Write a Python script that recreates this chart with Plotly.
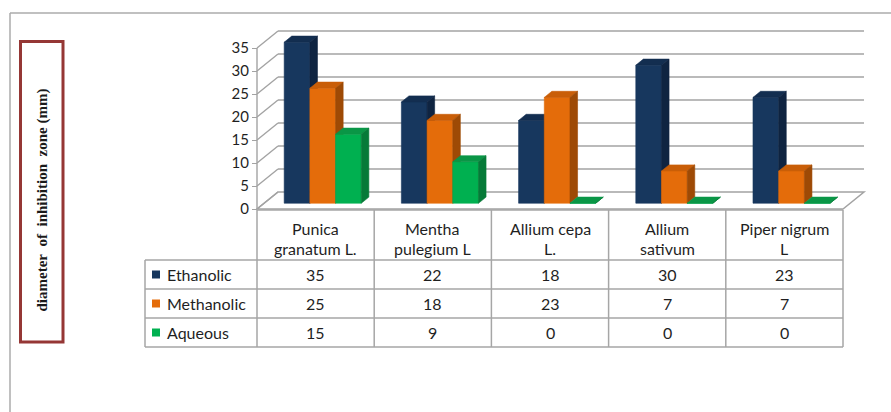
import plotly.graph_objects as go

# ---- data -------------------------------------------------------------
categories = ["Punica<br>granatum L.", "Mentha<br>pulegium L", "Allium cepa<br>L.",
              "Allium<br>sativum", "Piper nigrum<br>L"]
series_names = ["Ethanolic", "Methanolic", "Aqueous"]
ethanolic = [35, 22, 18, 30, 23]
methanolic = [25, 18, 23, 7, 7]
aqueous = [15, 9, 0, 0, 0]
y_ticks = [0, 5, 10, 15, 20, 25, 30, 35]
y_title = "diameter\u00a0\u00a0of\u00a0\u00a0inhibition\u00a0\u00a0zone (mm)"

series_values = [ethanolic, methanolic, aqueous]
# face colours: front, top, side
palette = [
    ("#17375E", "#132E50", "#0F2441"),
    ("#E46C0A", "#C95E08", "#9E4A05"),
    ("#00B050", "#0A9646", "#067A38"),
]

# ---- geometry ---------------------------------------------------------
W, H = 891, 412
PX_PER_CAT = 117.2          # horizontal pixels per category column
PX_PER_VAL = 4.6            # vertical pixels per mm
X_LEFT_PX = 257             # left edge of the category area
Y_ZERO_PX = 209             # value 0 on the front plane
DEPTH_DX_PX, DEPTH_DY_PX = 21, 17

DX = DEPTH_DX_PX / PX_PER_CAT
DY = DEPTH_DY_PX / PX_PER_VAL
D0, D1 = 0.34, 0.70          # depth span of the bars
BAR_W = 25.7 / PX_PER_CAT
YMAX = y_ticks[-1]
n = len(categories)

x_range = [-0.5 - X_LEFT_PX / PX_PER_CAT, -0.5 + (W - X_LEFT_PX) / PX_PER_CAT]
y_range = [(Y_ZERO_PX - H) / PX_PER_VAL, Y_ZERO_PX / PX_PER_VAL]


def px(p):
    return p / W


def py(p):
    return 1 - p / H


def proj(x, v, d):
    return x + DX * d, v + DY * d


fig = go.Figure()

# ---- 3D bars: front, top and side faces --------------------------------
for s, (vals, cols) in enumerate(zip(series_values, palette)):
    faces = {"front": ([], []), "top": ([], []), "side": ([], [])}
    for i, v in enumerate(vals):
        xl = i - 1.5 * BAR_W + s * BAR_W
        xr = xl + BAR_W
        polys = {
            "front": [proj(xl, 0, D0), proj(xr, 0, D0), proj(xr, v, D0), proj(xl, v, D0)],
            "top": [proj(xl, v, D0), proj(xr, v, D0), proj(xr, v, D1), proj(xl, v, D1)],
            "side": [proj(xr, 0, D0), proj(xr, 0, D1), proj(xr, v, D1), proj(xr, v, D0)],
        }
        for k, pts in polys.items():
            xs, ys = faces[k]
            xs.extend([p[0] for p in pts] + [pts[0][0], None])
            ys.extend([p[1] for p in pts] + [pts[0][1], None])
    for k, c in zip(["front", "top", "side"], cols):
        xs, ys = faces[k]
        fig.add_trace(go.Scatter(
            x=xs, y=ys, mode="lines", fill="toself", fillcolor=c,
            line=dict(color=c, width=0.6), hoverinfo="skip",
            showlegend=False, name=series_names[s],
        ))

# ---- walls, floor, gridlines -----------------------------------------
GRID = "#A3A3A3"
shapes = []
fl = [proj(-0.5, 0, 0), proj(n - 0.5, 0, 0), proj(n - 0.5, 0, 1), proj(-0.5, 0, 1)]
shapes.append(dict(
    type="path", layer="below", fillcolor="white", line=dict(color=GRID, width=1.5),
    path="M {} {} L {} {} L {} {} L {} {} Z".format(*[c for p in fl for c in p]),
))
for v in y_ticks:
    bx0, by = proj(-0.5, v, 1)
    bx1, _ = proj(n - 0.5, v, 1)
    if v > 0:
        shapes.append(dict(type="line", layer="below", x0=bx0, y0=by, x1=bx1, y1=by,
                           line=dict(color=GRID, width=1.6)))
    shapes.append(dict(type="line", layer="below", x0=-0.5, y0=v, x1=bx0, y1=by,
                       line=dict(color=GRID, width=1.4)))
shapes.append(dict(type="line", layer="below", x0=-0.5, y0=0, x1=-0.5, y1=YMAX,
                   line=dict(color=GRID, width=1.4)))

# ---- outer frame and axis-title box -----------------------------------
FRAME = "#ABABAB"
shapes.append(dict(type="line", xref="paper", yref="paper", x0=px(10), y0=py(13),
                   x1=px(10), y1=py(H), line=dict(color=FRAME, width=1.5)))
shapes.append(dict(type="line", xref="paper", yref="paper", x0=px(10), y0=py(13),
                   x1=px(W), y1=py(13), line=dict(color=FRAME, width=1.5)))
shapes.append(dict(type="rect", xref="paper", yref="paper", x0=px(20.5), y0=py(41.5),
                   x1=px(63), y1=py(342), line=dict(color="#953735", width=3)))

annotations = [dict(
    xref="paper", yref="paper", x=px(41.5), y=py(200), text="<b>" + y_title + "</b>",
    textangle=-90, showarrow=False, xanchor="center", yanchor="middle",
    font=dict(family="Liberation Serif", size=15, color="#1A1A1A"),
)]

# ---- data table -------------------------------------------------------
TBL = "#A6A6A6"
col_edges = [X_LEFT_PX + i * PX_PER_CAT for i in range(n + 1)]
row_edges = [210, 260, 289, 318, 347]
LEG_LEFT = 145
for r, yy in enumerate(row_edges):
    x_start = col_edges[0] if r == 0 else LEG_LEFT
    shapes.append(dict(type="line", xref="paper", yref="paper", x0=px(x_start), y0=py(yy),
                       x1=px(col_edges[-1]), y1=py(yy), line=dict(color=TBL, width=1.5)))
for xx in col_edges:
    shapes.append(dict(type="line", xref="paper", yref="paper", x0=px(xx), y0=py(row_edges[0]),
                       x1=px(xx), y1=py(row_edges[-1]), line=dict(color=TBL, width=1.5)))
shapes.append(dict(type="line", xref="paper", yref="paper", x0=px(LEG_LEFT), y0=py(row_edges[1]),
                   x1=px(LEG_LEFT), y1=py(row_edges[-1]), line=dict(color=TBL, width=1.5)))

TXT = dict(family="Lato", size=16, color="#1F1F1F")
for i, cat in enumerate(categories):
    cx = (col_edges[i] + col_edges[i + 1]) / 2
    for j, line in enumerate(cat.split("<br>")):
        annotations.append(dict(xref="paper", yref="paper", x=px(cx), y=py(228 + 21 * j),
                                text=line, showarrow=False, xanchor="center",
                                yanchor="middle", font=TXT))
for s, (name, vals, cols) in enumerate(zip(series_names, series_values, palette)):
    cy = (row_edges[s + 1] + row_edges[s + 2]) / 2
    shapes.append(dict(type="rect", xref="paper", yref="paper", x0=px(152), y0=py(cy - 4),
                       x1=px(160), y1=py(cy + 4), fillcolor=cols[0], line=dict(width=0)))
    annotations.append(dict(xref="paper", yref="paper", x=px(165), y=py(cy), text=name,
                            showarrow=False, xanchor="left", yanchor="middle", font=TXT))
    for i, v in enumerate(vals):
        cx = (col_edges[i] + col_edges[i + 1]) / 2
        annotations.append(dict(xref="paper", yref="paper", x=px(cx), y=py(cy), text=str(v),
                                showarrow=False, xanchor="center", yanchor="middle", font=TXT))

fig.update_layout(
    width=W, height=H, margin=dict(l=0, r=0, t=0, b=0),
    paper_bgcolor="white", plot_bgcolor="white", showlegend=False,
    xaxis=dict(range=x_range, visible=False, fixedrange=True),
    yaxis=dict(range=y_range, anchor="free", position=px(X_LEFT_PX), side="left",
               tickvals=y_ticks, ticks="outside", ticklen=5, tickcolor=GRID, tickwidth=1.4,
               showgrid=False, zeroline=False, showline=False,
               tickfont=dict(family="Lato", size=15, color="#1F1F1F"), fixedrange=True),
    shapes=shapes, annotations=annotations,
)

fig.write_html("out.html")
